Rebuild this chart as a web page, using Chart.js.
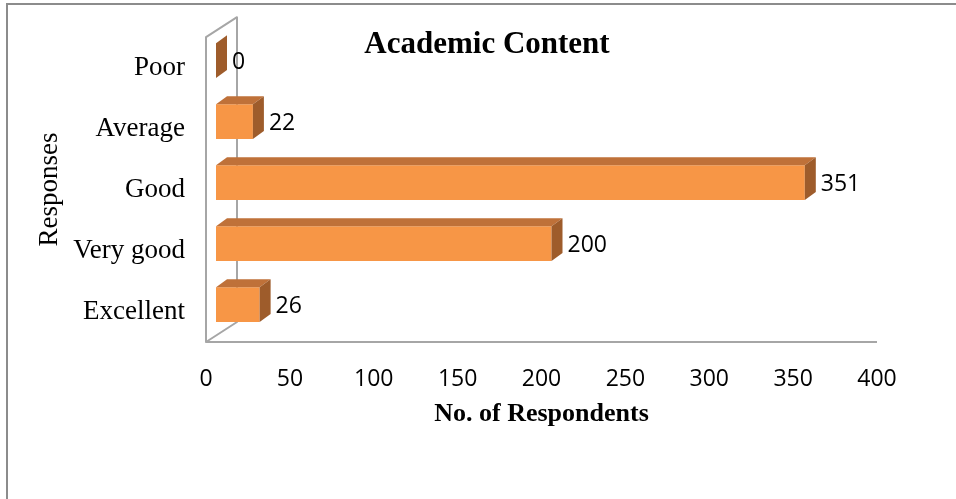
<!DOCTYPE html>
<html>
<head>
<meta charset="utf-8">
<script src="https://cdn.jsdelivr.net/npm/chart.js@4.4.1/dist/chart.umd.min.js"></script>
<style>
  html, body { margin: 0; padding: 0; background: #fff; overflow: hidden; }
  #wrap { position: relative; width: 956px; height: 499px; }
  #frame { position: absolute; left: 6px; top: 3px; width: 1000px; height: 600px; border: 2px solid #8c8c8c; box-sizing: border-box; }
  canvas { position: absolute; left: 0; top: 0; }
</style>
</head>
<body>
<div id="wrap">
  <div id="frame"></div>
  <canvas id="academicChart" width="956" height="499"></canvas>
</div>
<script>
// responses, top to bottom
const responses = ['Poor', 'Average', 'Good', 'Very good', 'Excellent'];
const respondents = [0, 22, 351, 200, 26];
const xMin = 0;
const xMax = 400;
const xStep = 50;

const frontColor = '#F79646';
const topColor = '#BF7139';
const sideColor = '#9E5C2B';
const wallColor = '#A6A6A6';

// depth of the box (wall) and of each bar, plus how far bars sit inside the box
const wallDepth = { x: 31, y: -20 };
const barShift = { x: 10, y: -7 };
const barDepth = { x: 11, y: -8 };

const serif = '"Liberation Serif", "Times New Roman", serif';
const sans = '"Open Sans", "Noto Sans", sans-serif';

const pseudo3d = {
  id: 'pseudo3d',
  beforeDatasetsDraw(chart) {
    const { ctx, chartArea: a } = chart;
    ctx.save();
    ctx.strokeStyle = wallColor;
    ctx.lineWidth = 2;
    ctx.lineJoin = 'round';
    // side wall
    ctx.beginPath();
    ctx.moveTo(a.left, a.bottom);
    ctx.lineTo(a.left, a.top);
    ctx.lineTo(a.left + wallDepth.x, a.top + wallDepth.y);
    ctx.lineTo(a.left + wallDepth.x, a.bottom + wallDepth.y);
    ctx.closePath();
    ctx.stroke();
    // floor edge
    ctx.beginPath();
    ctx.moveTo(a.left, a.bottom);
    ctx.lineTo(a.right, a.bottom);
    ctx.stroke();
    ctx.restore();

    ctx.save();
    ctx.translate(barShift.x, barShift.y);
  },
  afterDatasetsDraw(chart) {
    const { ctx } = chart;
    const meta = chart.getDatasetMeta(0);
    meta.data.forEach((bar) => {
      const { x, y, base, height } = bar.getProps(['x', 'y', 'base', 'height'], true);
      const y0 = y - height / 2;
      const y1 = y + height / 2;
      // top face
      ctx.fillStyle = topColor;
      ctx.beginPath();
      ctx.moveTo(base, y0);
      ctx.lineTo(base + barDepth.x, y0 + barDepth.y);
      ctx.lineTo(x + barDepth.x, y0 + barDepth.y);
      ctx.lineTo(x, y0);
      ctx.closePath();
      ctx.fill();
      // end face
      ctx.fillStyle = sideColor;
      ctx.beginPath();
      ctx.moveTo(x, y0);
      ctx.lineTo(x + barDepth.x, y0 + barDepth.y);
      ctx.lineTo(x + barDepth.x, y1 + barDepth.y);
      ctx.lineTo(x, y1);
      ctx.closePath();
      ctx.fill();
    });
    ctx.restore();

    // value labels
    ctx.save();
    ctx.fillStyle = '#000';
    ctx.font = '23px ' + sans;
    ctx.textAlign = 'left';
    ctx.textBaseline = 'middle';
    meta.data.forEach((bar, i) => {
      ctx.fillText(String(respondents[i]), bar.x + barShift.x + barDepth.x + 5, bar.y - 5);
    });
    ctx.restore();
  },
  afterDraw(chart) {
    const { ctx } = chart;
    ctx.save();
    ctx.fillStyle = '#000';
    ctx.font = 'bold 31px ' + serif;
    ctx.textAlign = 'center';
    ctx.textBaseline = 'middle';
    ctx.fillText('Academic Content', 487, 45);
    ctx.restore();
  }
};

new Chart(document.getElementById('academicChart'), {
  type: 'bar',
  data: {
    labels: responses,
    datasets: [{
      data: respondents,
      backgroundColor: frontColor,
      borderWidth: 0,
      barPercentage: 1,
      categoryPercentage: 0.57
    }]
  },
  options: {
    indexAxis: 'y',
    responsive: false,
    animation: false,
    layout: { padding: { left: 0, top: 32, right: 79, bottom: 57 } },
    plugins: {
      legend: { display: false },
      tooltip: { enabled: false }
    },
    scales: {
      x: {
        min: xMin,
        max: xMax,
        grid: { display: false, drawTicks: false },
        border: { display: false },
        ticks: { stepSize: xStep, padding: 24, color: '#000', font: { family: sans, size: 23 } },
        title: {
          display: true,
          text: 'No. of Respondents',
          color: '#000',
          font: { family: serif, size: 26, weight: 'bold' },
          padding: { top: 0, bottom: 12 }
        },
        afterFit(scale) { scale.height = 100; }
      },
      y: {
        grid: { display: false, drawTicks: false },
        border: { display: false },
        ticks: { padding: 21, color: '#000', font: { family: serif, size: 27 } },
        title: {
          display: true,
          text: 'Responses',
          color: '#000',
          font: { family: serif, size: 27 },
          padding: { top: 34, bottom: 0 }
        },
        afterFit(scale) { scale.width = 206; }
      }
    }
  },
  plugins: [pseudo3d]
});
</script>
</body>
</html>
